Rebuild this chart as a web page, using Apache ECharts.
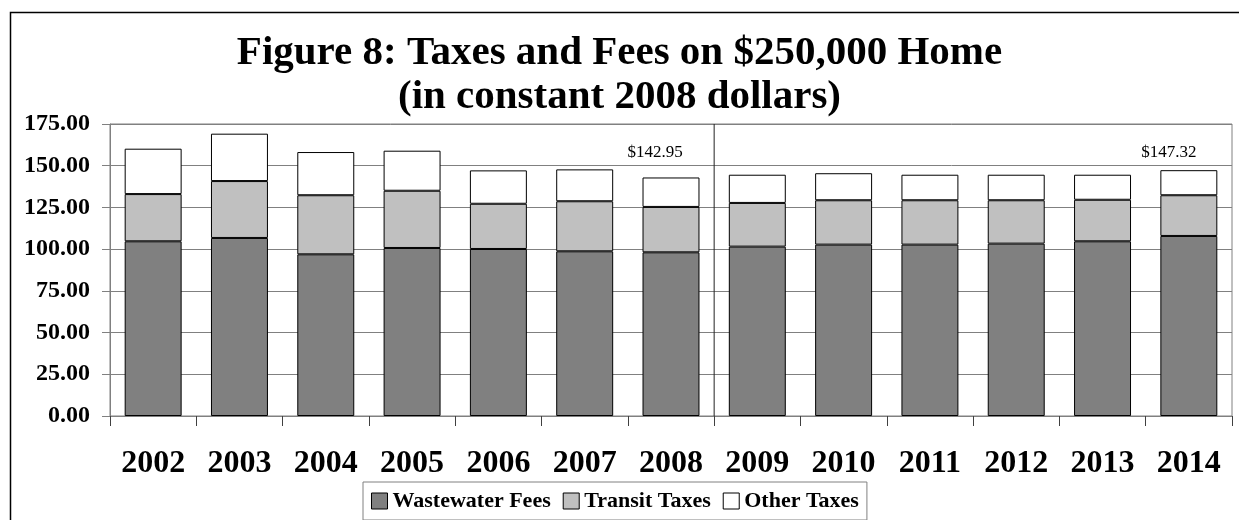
<!DOCTYPE html>
<html>
<head>
<meta charset="utf-8">
<script src="https://cdn.jsdelivr.net/npm/echarts@6/dist/echarts.min.js"></script>
<style>
  html, body { margin: 0; padding: 0; background: #fff; }
  #chart { width: 1239px; height: 520px; }
</style>
</head>
<body>
<div id="chart"></div>
<script>
// Fiscal years on the category axis
const years = ['2002', '2003', '2004', '2005', '2006', '2007', '2008', '2009', '2010', '2011', '2012', '2013', '2014'];

// Annual charges in constant 2008 dollars, stacked bottom to top
const wastewaterFees = [104.7, 106.7, 96.9, 100.7, 100.1, 98.7, 98.1, 101.5, 102.7, 102.7, 103.3, 104.7, 107.9];
const transitTaxes   = [28.3, 34.1, 35.4, 34.3, 27.1, 30.0, 27.2, 26.2, 26.6, 26.6, 26.0, 24.9, 24.4];
const otherTaxes     = [27.2, 28.4, 25.9, 24.0, 20.0, 19.1, 17.65, 16.9, 16.2, 15.3, 15.3, 15.0, 15.02];

// Years whose stacked total is annotated above the bar
const annotatedYears = ['2008', '2014'];

// Value axis ticks
const yTicks = { min: 0, max: 175, step: 25 };

// Actual years end after 2008; projections start at 2009
const dividerAfter = '2008';

const SERIF = '"Liberation Serif", "Times New Roman", serif';

const totals = years.map((_, i) => wastewaterFees[i] + transitTaxes[i] + otherTaxes[i]);
const dividerPos = years.indexOf(dividerAfter) + 1;

const chart = echarts.init(document.getElementById('chart'));

const barBorder = { borderColor: '#000', borderWidth: 1 };

const otherData = otherTaxes.map((v, i) => {
  const item = { value: v };
  if (annotatedYears.includes(years[i])) {
    const idx = annotatedYears.indexOf(years[i]);
    item.label = {
      show: true,
      position: 'top',
      offset: idx === 0 ? [-16, -11] : [-20, -4],
      formatter: () => '$' + totals[i].toFixed(2),
      fontFamily: SERIF,
      fontSize: 17,
      color: '#000'
    };
  }
  return item;
});

const titleStyle = {
  fontFamily: SERIF,
  fontWeight: 'bold',
  fontSize: 41,
  color: '#000'
};

chart.setOption({
  animation: false,
  backgroundColor: '#fff',
  graphic: [{
    type: 'rect',
    left: 8,
    top: 10,
    shape: { width: 1260, height: 540 },
    style: { fill: 'none', stroke: '#000', lineWidth: 1.5 },
    silent: true,
    z: -1
  }],
  title: [
    { text: 'Figure 8: Taxes and Fees on $250,000 Home', left: 'center', top: 33, padding: 0, textStyle: titleStyle },
    { text: '(in constant 2008 dollars)', left: 'center', top: 77, padding: 0, textStyle: titleStyle }
  ],
  legend: {
    left: 363,
    top: 482,
    itemWidth: 16,
    itemHeight: 16,
    itemGap: 12,
    padding: [8, 8, 8, 8],
    borderColor: '#808080',
    borderWidth: 1,
    icon: 'rect',
    itemStyle: { borderColor: '#000', borderWidth: 1 },
    textStyle: {
      fontFamily: SERIF,
      fontWeight: 'bold',
      fontSize: 22,
      color: '#000'
    },
    data: ['Wastewater Fees', 'Transit Taxes', 'Other Taxes']
  },
  grid: {
    left: 110,
    right: 7,
    top: 124,
    bottom: 104,
    show: true,
    borderColor: '#808080',
    borderWidth: 1,
    containLabel: false
  },
  xAxis: [
    {
      type: 'category',
      data: years,
      boundaryGap: true,
      axisLine: { show: true, lineStyle: { color: '#808080', width: 1 } },
      axisTick: { show: true, length: 10, interval: 0, lineStyle: { color: '#404040' } },
      axisLabel: {
        interval: 0,
        margin: 32,
        fontFamily: SERIF,
        fontWeight: 'bold',
        fontSize: 32,
        color: '#000'
      },
      splitLine: { show: false }
    },
    {
      // hidden linear axis over the same span, used to place the column divider
      type: 'value',
      min: 0,
      max: years.length,
      show: false
    }
  ],
  yAxis: {
    type: 'value',
    min: yTicks.min,
    max: yTicks.max,
    interval: yTicks.step,
    axisLine: { show: true, lineStyle: { color: '#808080', width: 1 } },
    axisTick: { show: true, length: 8, lineStyle: { color: '#808080' } },
    axisLabel: {
      margin: 20,
      formatter: (v) => v.toFixed(2),
      fontFamily: SERIF,
      fontWeight: 'bold',
      fontSize: 24,
      color: '#000'
    },
    splitLine: { show: true, lineStyle: { color: '#808080', width: 1 } }
  },
  series: [
    {
      name: 'Wastewater Fees',
      type: 'bar',
      stack: 'total',
      barWidth: '66%',
      itemStyle: Object.assign({ color: '#808080' }, barBorder),
      data: wastewaterFees
    },
    {
      name: 'Transit Taxes',
      type: 'bar',
      stack: 'total',
      barWidth: '66%',
      itemStyle: Object.assign({ color: '#c0c0c0' }, barBorder),
      data: transitTaxes
    },
    {
      name: 'Other Taxes',
      type: 'bar',
      stack: 'total',
      barWidth: '66%',
      itemStyle: Object.assign({ color: '#ffffff' }, barBorder),
      data: otherData
    },
    {
      name: 'divider',
      type: 'line',
      xAxisIndex: 1,
      symbol: 'none',
      silent: true,
      z: 1,
      lineStyle: { color: '#222', width: 1 },
      data: [[dividerPos, yTicks.min], [dividerPos, yTicks.max]]
    }
  ]
});
</script>
</body>
</html>
